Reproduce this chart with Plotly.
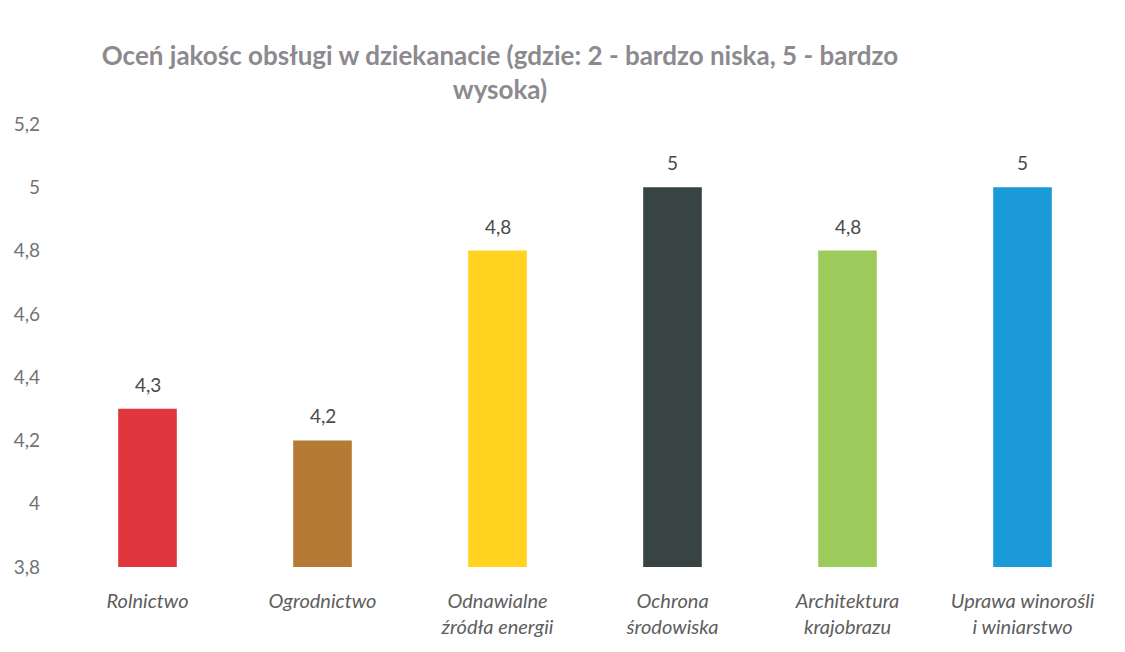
import plotly.graph_objects as go

categories = ["Rolnictwo", "Ogrodnictwo", "Odnawialne<br>źródła energii", "Ochrona<br>środowiska",
              "Architektura<br>krajobrazu", "Uprawa winorośli<br>i winiarstwo"]
values = [4.3, 4.2, 4.8, 5.0, 4.8, 5.0]
labels = ["4,3", "4,2", "4,8", "5", "4,8", "5"]
colors = ["#E0363E", "#B57A33", "#FFD320", "#384443", "#9CCB5C", "#1B9ADA"]
y_ticks = [3.8, 4.0, 4.2, 4.4, 4.6, 4.8, 5.0, 5.2]
y_tick_text = ["3,8", "4", "4,2", "4,4", "4,6", "4,8", "5", "5,2"]

fig = go.Figure(go.Bar(
    x=categories, y=values, marker=dict(color=colors, line=dict(width=0)),
    base=0, hoverinfo="x+y",
))
for c, v, t in zip(categories, values, labels):
    fig.add_annotation(x=c, y=v, text=t, showarrow=False, yanchor="bottom", yshift=11,
                       font=dict(family="Lato", size=19, color="#4A4A4A"))

fig.update_layout(
    width=1117, height=644,
    margin=dict(l=52, r=15, t=116, b=85, autoexpand=False),
    paper_bgcolor="white", plot_bgcolor="white",
    bargap=0.665,
    showlegend=False,
    title=dict(text="<b>Oceń jakośc obsługi w dziekanacie (gdzie: 2 - bardzo niska, 5 - bardzo<br>wysoka)</b>",
               x=492/1117, xanchor="center", y=1-57/644, yanchor="top", automargin=False,
               font=dict(family="Lato", size=26, color="#8C8A8E")),
)
fig.update_yaxes(range=[3.8, 5.2], tickvals=y_ticks, ticktext=y_tick_text, showgrid=False,
                 zeroline=False, showline=False, ticks="", automargin=False,
                 tickfont=dict(family="Lato", size=19, color="#737373"), ticklabelstandoff=19)
fig.update_xaxes(showgrid=False, showline=False, ticks="", automargin=False, ticklabelstandoff=20,
                 tickfont=dict(family="Lato", size=20, color="#5E5E5E", style="italic"))
fig.write_html("out.html")
